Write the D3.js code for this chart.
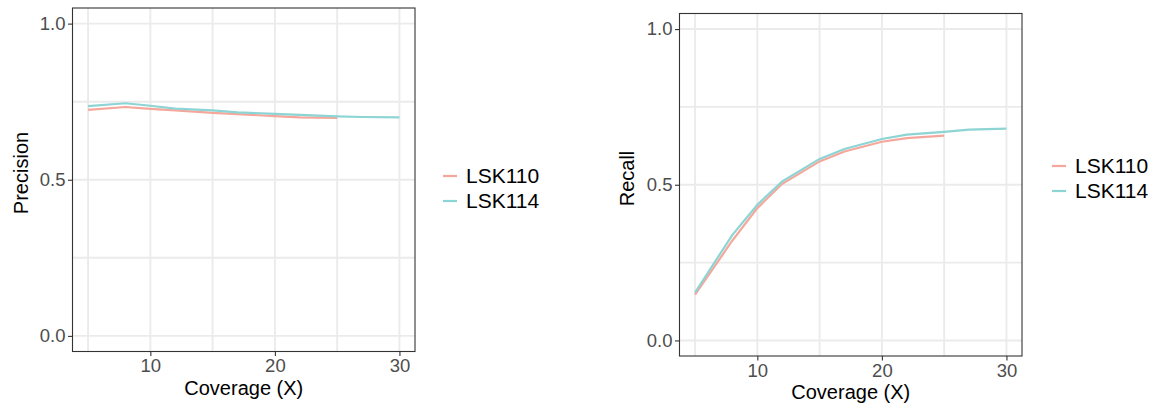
<!DOCTYPE html>
<html>
<head>
<meta charset="utf-8">
<script src="https://cdn.jsdelivr.net/npm/d3@7"></script>
<style>
  body { margin: 0; background: #fff; }
  svg text { font-family: "Liberation Sans", Arial, Helvetica, sans-serif; }
  .tick-label { fill: #4d4d4d; font-size: 18.5px; }
  .axis-title { fill: #000; font-size: 20px; }
  .legend__item { fill: #000; font-size: 21px; }
</style>
</head>
<body>
<svg class="chart" width="1163" height="406"></svg>
<script>
// coverage levels per sample
const cov110 = [5, 8, 10, 12, 15, 17, 20, 22, 25]
const cov114 = [5, 8, 10, 12, 15, 17, 20, 22, 25, 27, 30]

const precision110 = [0.724, 0.733, 0.727, 0.722, 0.714, 0.710, 0.704, 0.700, 0.698]
const precision114 = [0.736, 0.745, 0.737, 0.728, 0.722, 0.716, 0.711, 0.708, 0.703, 0.701, 0.700]

const recall110 = [0.147, 0.321, 0.425, 0.503, 0.575, 0.607, 0.638, 0.650, 0.658]
const recall114 = [0.154, 0.339, 0.436, 0.511, 0.583, 0.615, 0.647, 0.661, 0.670, 0.677, 0.680]

const samples = ["LSK110", "LSK114"]
const colors = ["#F6A79C", "#8DD4D4"]

const xTicks = [10, 20, 30]
const xMinor = [5, 15, 25]
const yTicks = [0, 0.5, 1.0]
const yMinor = [0.25, 0.75]

const svg = d3.select(".chart")

function zip(xs, ys) { return xs.map((x, i) => ({x: x, y: ys[i]})) }

function drawPanel(opts) {
    const x = d3.scaleLinear().domain([3.75, 31.25]).range([opts.left, opts.right])
    const y = d3.scaleLinear().domain([-0.05, 1.05]).range([opts.bottom, opts.top])

    const g = svg.append("g")

    // grid
    g.selectAll(".grid-x").data(xMinor.concat(xTicks)).enter().append("line")
        .attr("x1", d => x(d)).attr("x2", d => x(d))
        .attr("y1", opts.top).attr("y2", opts.bottom)
        .attr("stroke", "#ebebeb").attr("stroke-width", 1.9)
    g.selectAll(".grid-y").data(yMinor.concat(yTicks)).enter().append("line")
        .attr("y1", d => y(d)).attr("y2", d => y(d))
        .attr("x1", opts.left).attr("x2", opts.right)
        .attr("stroke", "#ebebeb").attr("stroke-width", 1.9)

    // lines
    const line = d3.line().x(d => x(d.x)).y(d => y(d.y))
    opts.series.forEach((s, i) => {
        g.append("path")
            .datum(s)
            .attr("fill", "none")
            .attr("stroke", colors[i])
            .attr("stroke-width", 2.2)
            .attr("d", line)
    })

    // border
    g.append("rect")
        .attr("x", opts.left).attr("y", opts.top)
        .attr("width", opts.right - opts.left).attr("height", opts.bottom - opts.top)
        .attr("fill", "none").attr("stroke", "#333").attr("stroke-width", 1.1)

    // axes
    const yAxis = g.append("g")
        .attr("transform", `translate(${opts.left},0)`)
        .call(d3.axisLeft(y).tickValues(yTicks).tickFormat(d3.format(".1f")).tickSize(4.5).tickPadding(2.5))
    const xAxis = g.append("g")
        .attr("transform", `translate(0,${opts.bottom})`)
        .call(d3.axisBottom(x).tickValues(xTicks).tickSize(4.5).tickPadding(2.5))
    ;[yAxis, xAxis].forEach(a => {
        a.select(".domain").remove()
        a.selectAll(".tick line").attr("stroke", "#333").attr("stroke-width", 1.1)
        a.selectAll(".tick text").attr("class", "tick-label").attr("font-size", null).attr("font-family", null)
        a.attr("font-size", null).attr("font-family", null)
    })
    xAxis.selectAll(".tick text").attr("dy", null).attr("y", 20.5)

    g.append("text")
        .attr("class", "axis-title")
        .attr("text-anchor", "middle")
        .attr("x", (opts.left + opts.right) / 2)
        .attr("y", opts.bottom + 43)
        .text("Coverage (X)")

    g.append("text")
        .attr("class", "axis-title")
        .attr("text-anchor", "middle")
        .attr("transform", `translate(${opts.yTitleX},${opts.yTitleY}) rotate(-90)`)
        .text(opts.yTitle)

    // legend
    samples.forEach((s, i) => {
        const ly = opts.legendY + i * 25
        g.append("line")
            .attr("x1", opts.legendX).attr("x2", opts.legendX + 14)
            .attr("y1", ly).attr("y2", ly)
            .attr("stroke", colors[i]).attr("stroke-width", 2.2)
        g.append("text")
            .attr("class", "legend__item")
            .attr("x", opts.legendX + 23)
            .attr("y", ly + 7)
            .text(s)
    })
}

drawPanel({
    left: 72.5, right: 415, top: 8, bottom: 351.5,
    yTitle: "Precision", yTitleX: 27.5, yTitleY: 173,
    legendX: 443, legendY: 176,
    series: [zip(cov110, precision110), zip(cov114, precision114)]
})

drawPanel({
    left: 679.5, right: 1022, top: 13.5, bottom: 356,
    yTitle: "Recall", yTitleX: 633.5, yTitleY: 178.5,
    legendX: 1052, legendY: 166,
    series: [zip(cov110, recall110), zip(cov114, recall114)]
})
</script>
</body>
</html>
